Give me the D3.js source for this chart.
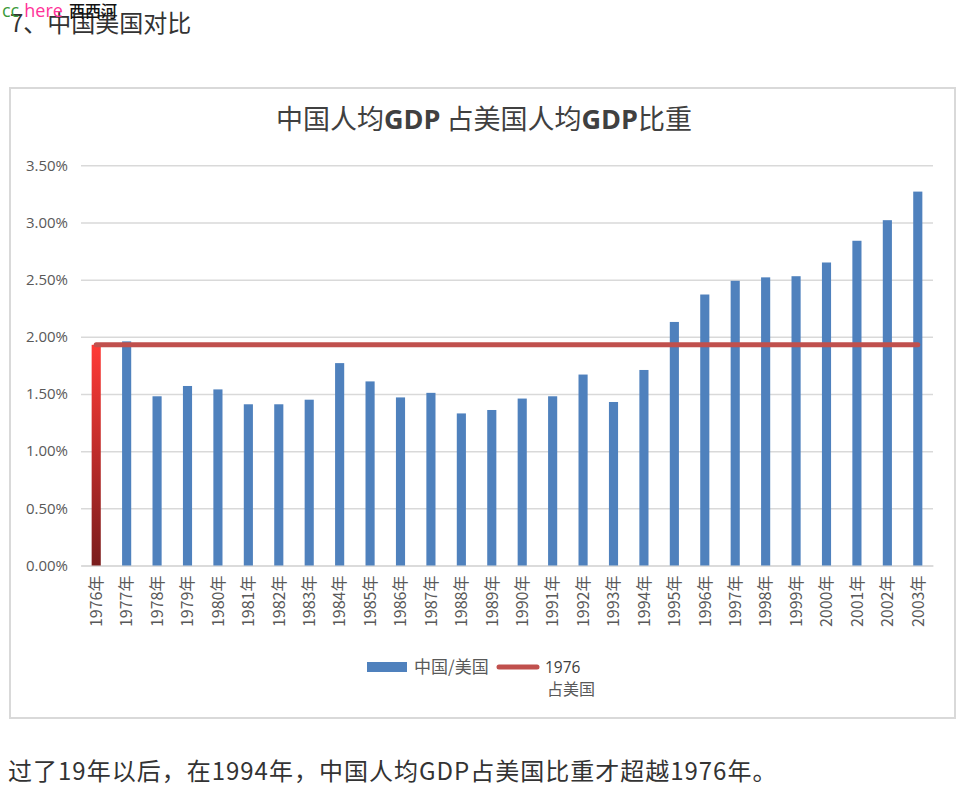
<!DOCTYPE html>
<html><head><meta charset="utf-8">
<script src="https://cdn.jsdelivr.net/npm/d3@7"></script>
<style>body{margin:0;background:#fff;} svg{display:block}</style>
</head><body><svg id="c" width="967" height="800"></svg>
<script>
// ---- data ----
const years = ["1976年","1977年","1978年","1979年","1980年","1981年","1982年","1983年","1984年","1985年","1986年","1987年","1988年","1989年","1990年","1991年","1992年","1993年","1994年","1995年","1996年","1997年","1998年","1999年","2000年","2001年","2002年","2003年"];
const ratios = [1.93,1.96,1.48,1.57,1.54,1.41,1.41,1.45,1.77,1.61,1.47,1.51,1.33,1.36,1.46,1.48,1.67,1.43,1.71,2.13,2.37,2.49,2.52,2.53,2.65,2.84,3.02,3.27];
const level1976 = 1.93;
const yTicks = [0,0.5,1.0,1.5,2.0,2.5,3.0,3.5];
const seriesNames = ["中国/美国","1976","占美国"];
const titleParts = [["中国人均",false],["GDP",true],["占美国人均",false],["GDP",true],["比重",false]];

const svg = d3.select("#c");
svg.append("rect").attr("width",967).attr("height",800).attr("fill","#fff");

// page header
svg.append("text").attr("x",10).attr("y",32).attr("font-family","'Noto Sans CJK SC','Open Sans',sans-serif").attr("font-size",24).attr("fill","#333")
  .text("7、中国美国对比");
const cc = svg.append("text").attr("x",2).attr("y",17).attr("font-family","'Open Sans',sans-serif").attr("font-size",18);
cc.append("tspan").attr("fill","#3a9a3a").text("cc");
cc.append("tspan").attr("fill","#ff3399").attr("dx",5).text("here");
cc.append("tspan").attr("fill","#111").attr("dx",6).attr("font-family","'Noto Sans CJK SC',sans-serif").attr("font-size",16).attr("font-weight",500).text("西西河");

// frame
svg.append("rect").attr("x",10).attr("y",88).attr("width",945).attr("height",630).attr("fill","none").attr("stroke","#d9d9d9").attr("stroke-width",2);

// title
const t = svg.append("text").attr("x",484).attr("y",129).attr("text-anchor","middle").attr("font-size",27).attr("fill","#404040");
titleParts.forEach(([s,b],i)=>{
  t.append("tspan").attr("dx", i===2?6:0).attr("font-family", b?"'Open Sans',sans-serif":"'Noto Sans CJK SC',sans-serif").attr("font-weight", b?700:400).text(s);
});

// scales
const x = d3.scaleBand().domain(years).range([81,933]).paddingInner(0.7).paddingOuter(0.35);
const y = d3.scaleLinear().domain([0,3.5]).range([565.5,165.3]);

// grid + y axis
const ya = svg.append("g").attr("transform","translate(81,0)")
  .call(d3.axisLeft(y).tickValues(yTicks).tickSize(-852).tickPadding(13).tickFormat(d=>d.toFixed(2)+"%"));
ya.select(".domain").remove();
ya.selectAll(".tick line").attr("stroke","#d9d9d9").attr("stroke-width",1.5);
ya.selectAll(".tick text").attr("font-family","'Open Sans',sans-serif").attr("font-size",15).attr("fill","#595959");

// x axis
const xa = svg.append("g").attr("transform","translate(0,565.5)")
  .call(d3.axisBottom(x).tickSize(0));
xa.select(".domain").attr("stroke","#d9d9d9").attr("stroke-width",1.5);
xa.selectAll(".tick text").attr("font-family","'Noto Sans CJK SC',sans-serif").attr("font-size",16).attr("fill","#595959")
  .attr("text-anchor","end").attr("transform","rotate(-90)").attr("x",-10).attr("y",0).attr("dy","0.36em");

// gradient for 1976 bar
const defs = svg.append("defs");
const g = defs.append("linearGradient").attr("id","red").attr("x1",0).attr("y1",0).attr("x2",0).attr("y2",1);
g.append("stop").attr("offset",0).attr("stop-color","#ff3a36");
g.append("stop").attr("offset",1).attr("stop-color","#7a1d1d");

// bars
svg.append("g").selectAll("rect").data(years).join("rect")
  .attr("x",d=>x(d)).attr("width",x.bandwidth())
  .attr("y",(d,i)=>y(ratios[i])).attr("height",(d,i)=>y(0)-y(ratios[i]))
  .attr("fill",(d,i)=>i===0?"url(#red)":"#4f81bd");

// 1976 line
const line = d3.line().x(d=>x(d)+x.bandwidth()/2).y(()=>y(level1976));
svg.append("path").datum(years).attr("d",line).attr("fill","none").attr("stroke","#c0504d").attr("stroke-width",5).attr("stroke-linecap","round");

// legend
svg.append("rect").attr("x",367).attr("y",662).attr("width",40).attr("height",10).attr("fill","#4f81bd");
svg.append("text").attr("x",414).attr("y",673).attr("font-family","'Noto Sans CJK SC',sans-serif").attr("font-size",17).attr("fill","#595959").text(seriesNames[0]);
svg.append("line").attr("x1",499).attr("x2",537).attr("y1",667).attr("y2",667).attr("stroke","#c0504d").attr("stroke-width",5).attr("stroke-linecap","round");
svg.append("text").attr("x",545).attr("y",673).attr("font-family","'Open Sans',sans-serif").attr("font-size",15.5).attr("fill","#404040").text(seriesNames[1]);
svg.append("text").attr("x",547).attr("y",695).attr("font-family","'Noto Sans CJK SC',sans-serif").attr("font-size",16).attr("fill","#595959").text(seriesNames[2]);

// caption below
svg.append("text").attr("x",8).attr("y",780).attr("font-family","'Noto Sans CJK SC','Open Sans',sans-serif").attr("font-size",24).attr("letter-spacing",1).attr("fill","#333")
  .text("过了19年以后，在1994年，中国人均GDP占美国比重才超越1976年。");
</script></body></html>
